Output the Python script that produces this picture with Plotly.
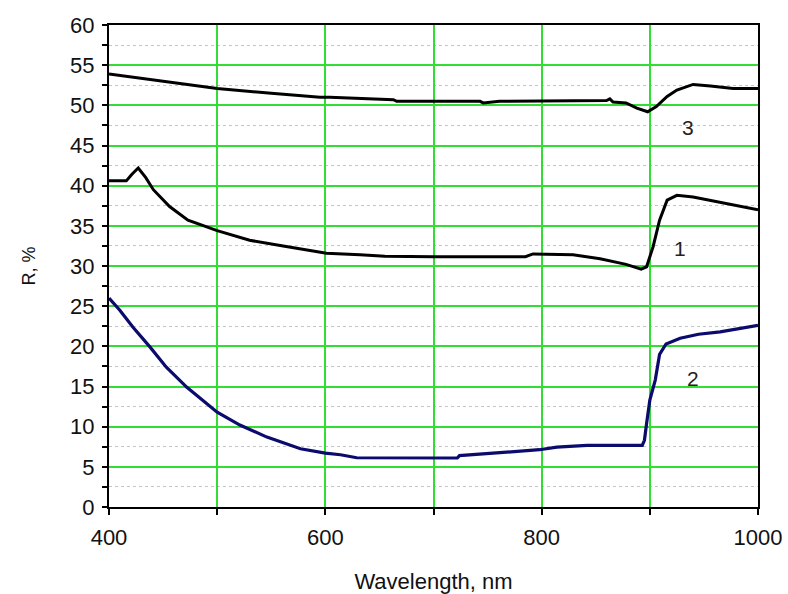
import plotly.graph_objects as go

# ---- data ----
wl1 = [400, 416, 421, 427, 434, 441, 456, 473, 500, 530, 561, 601, 632, 655, 700,
       785, 792, 829, 854, 878, 892, 897, 903, 909, 916, 925, 940, 971, 1000]
r1 = [40.6, 40.6, 41.4, 42.2, 41.0, 39.5, 37.4, 35.7, 34.4, 33.2, 32.5, 31.6, 31.4, 31.2, 31.15,
      31.15, 31.5, 31.4, 30.9, 30.2, 29.6, 29.9, 32.4, 35.7, 38.2, 38.8, 38.6, 37.8, 37.0]

wl2 = [400, 410, 422, 438, 453, 472, 500, 521, 546, 577, 600, 614, 629, 700, 722, 724,
       755, 774, 798, 814, 842, 893, 895, 897, 900, 905, 909, 915, 928, 945, 965, 1000]
r2 = [26.0, 24.5, 22.4, 19.9, 17.4, 14.9, 11.8, 10.2, 8.7, 7.25, 6.7, 6.5, 6.13, 6.13, 6.1, 6.4,
      6.7, 6.96, 7.13, 7.46, 7.67, 7.67, 8.3, 10.4, 13.3, 15.8, 19.0, 20.3, 21.0, 21.5, 21.8, 22.6]

wl3 = [400, 450, 500, 550, 595, 604, 663, 666, 743, 746, 761, 860, 863, 866, 870,
       878, 888, 898, 906, 916, 925, 940, 956, 977, 1000]
r3 = [53.9, 53.0, 52.1, 51.5, 51.0, 51.0, 50.7, 50.5, 50.5, 50.3, 50.5, 50.6, 50.8, 50.4, 50.35,
      50.3, 49.65, 49.2, 49.85, 51.1, 51.9, 52.6, 52.4, 52.1, 52.1]

x_tickvals = [400, 500, 600, 700, 800, 900, 1000]
x_ticktext = ["400", "", "600", "", "800", "", "1000"]
y_tickvals = [0, 5, 10, 15, 20, 25, 30, 35, 40, 45, 50, 55, 60]

curve_labels = ["1", "2", "3"]
label_x = [928, 940, 935]
label_y = [32.2, 16.0, 47.2]

FONT = "Liberation Sans, Arial, sans-serif"
GRID = "#33dd33"

fig = go.Figure()
fig.add_trace(go.Scatter(x=wl3, y=r3, mode="lines", line=dict(color="#000000", width=3), showlegend=False))
fig.add_trace(go.Scatter(x=wl1, y=r1, mode="lines", line=dict(color="#000000", width=3), showlegend=False))
fig.add_trace(go.Scatter(x=wl2, y=r2, mode="lines", line=dict(color="#0b0b6e", width=3.2), showlegend=False))

for t, xx, yy in zip(curve_labels, label_x, label_y):
    fig.add_annotation(x=xx, y=yy, text=t, showarrow=False,
                       font=dict(family=FONT, size=21, color="#222222"))

fig.update_layout(
    width=788, height=594,
    margin=dict(l=109, r=30, t=25, b=87),
    paper_bgcolor="white", plot_bgcolor="white",
    font=dict(family=FONT, size=22, color="#111111"),
    xaxis=dict(
        range=[400, 1000], tickvals=x_tickvals, ticktext=x_ticktext,
        showgrid=True, gridcolor=GRID, gridwidth=1.5,
        showline=True, linecolor="black", linewidth=2, mirror=True,
        ticks="outside", ticklen=6, tickwidth=2, tickcolor="black",
        ticklabelstandoff=4, ticklabeloverflow="allow",
        zeroline=False, automargin=False,
        title=dict(text="Wavelength, nm", font=dict(size=22), standoff=24),
    ),
    yaxis=dict(
        range=[0, 60], tickvals=y_tickvals,
        showgrid=True, gridcolor=GRID, gridwidth=1.5,
        showline=True, linecolor="black", linewidth=2, mirror=True,
        ticks="outside", ticklen=5, tickwidth=2, tickcolor="black",
        ticklabelstandoff=3,
        zeroline=False, automargin=False,
        minor=dict(dtick=2.5, tick0=0, showgrid=True, gridcolor="#c4c4c4", griddash="dot",
                   gridwidth=1, ticks="outside", ticklen=5, tickwidth=2, tickcolor="black"),
        title=dict(text="R, %", font=dict(size=18), standoff=30),
    ),
    yaxis2=dict(
        range=[0, 60], overlaying="y", side="right", anchor="x",
        dtick=2.5, tick0=0, showticklabels=False, showgrid=False, zeroline=False,
        ticks="inside", ticklen=5, tickwidth=2, tickcolor="black", showline=False,
    ),
)

# remove the browser's default 8px body margin so the figure fills the window exactly
fig.write_html("out.html", config={"displayModeBar": False},
               post_script="document.body.style.margin='0';document.body.style.overflow='hidden';")
